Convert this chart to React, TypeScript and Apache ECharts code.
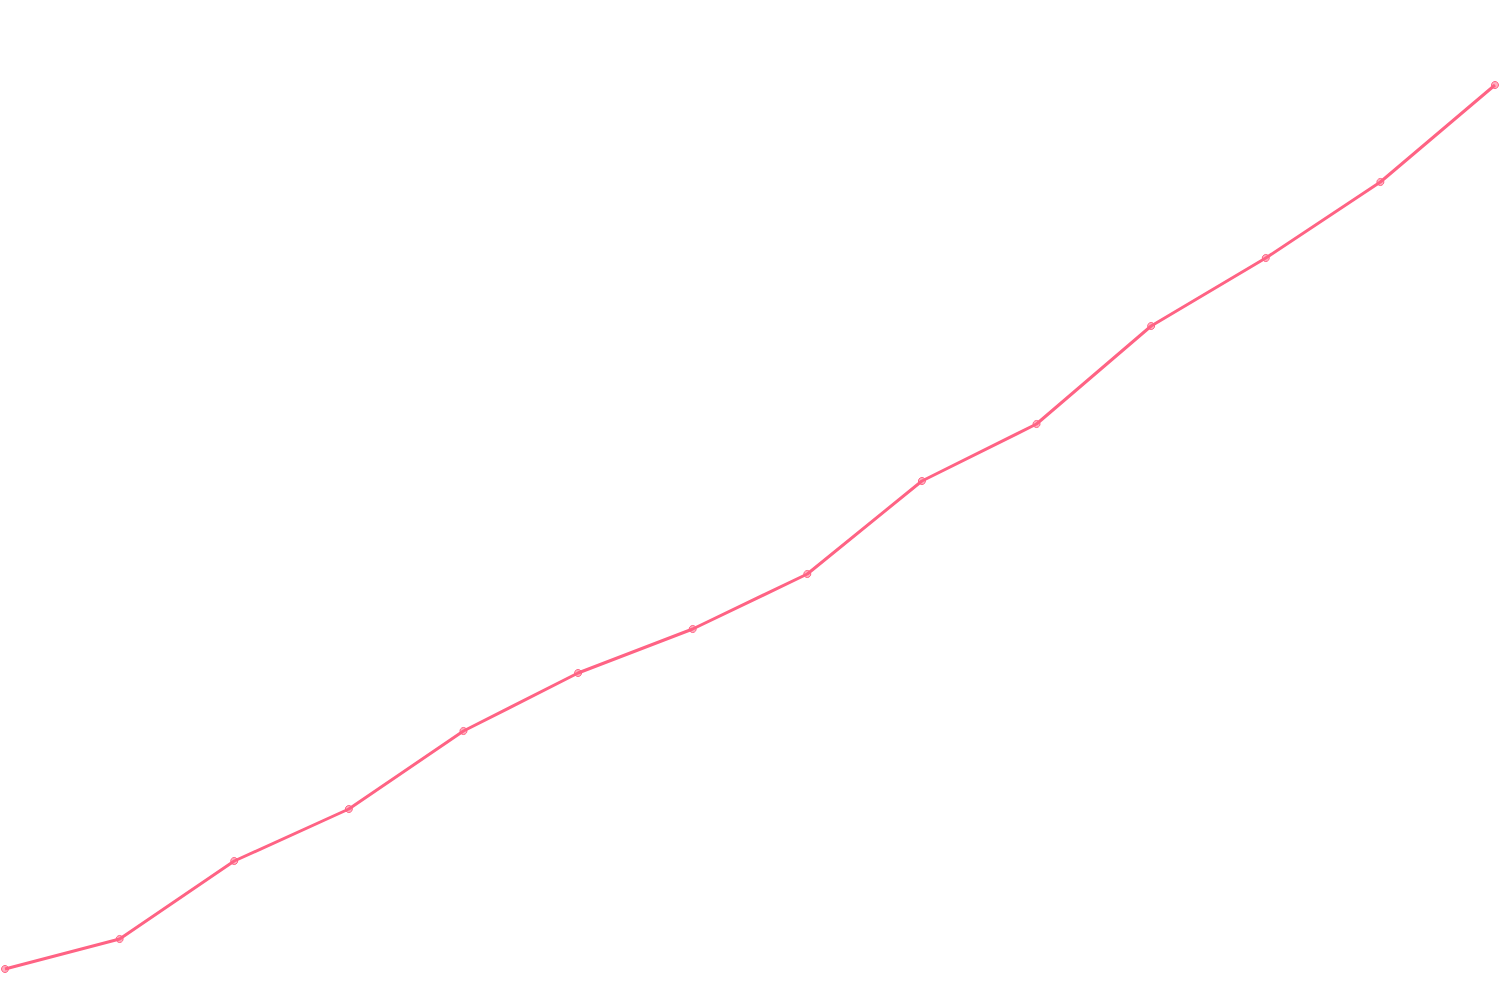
import { useEffect, useRef } from 'react'
import * as echarts from 'echarts'

// 14 points, no axes shown
const categories = ['1', '2', '3', '4', '5', '6', '7', '8', '9', '10', '11', '12', '13', '14']
const values = [3.1, 6.1, 13.9, 19.1, 26.9, 32.7, 37.1, 42.6, 51.9, 57.6, 67.4, 74.2, 81.8, 91.5]

export default function App() {
  const chartRef = useRef<HTMLDivElement>(null)

  useEffect(() => {
    if (!chartRef.current) return
    const chart = echarts.init(chartRef.current, undefined, { renderer: 'svg' })

    const option: echarts.EChartsOption = {
      animation: false,
      backgroundColor: '#ffffff',
      grid: { left: 5, right: 5, top: 0, bottom: 0 },
      xAxis: {
        type: 'category',
        data: categories,
        boundaryGap: false,
        show: false,
      },
      yAxis: {
        type: 'value',
        min: 0,
        max: 100,
        show: false,
      },
      series: [
        {
          type: 'line',
          data: values,
          symbol: 'circle',
          symbolSize: 7,
          showAllSymbol: true,
          lineStyle: { color: '#ff6384', width: 3 },
          itemStyle: {
            color: 'rgba(255, 99, 132, 0.5)',
            borderColor: '#ff6384',
            borderWidth: 1,
          },
        },
      ],
    }

    chart.setOption(option)
    return () => chart.dispose()
  }, [])

  return (
    <div style={{ position: 'fixed', left: 0, top: 0, width: 1500, height: 1000 }}>
      <div ref={chartRef} style={{ width: '100%', height: '100%' }} />
    </div>
  )
}
